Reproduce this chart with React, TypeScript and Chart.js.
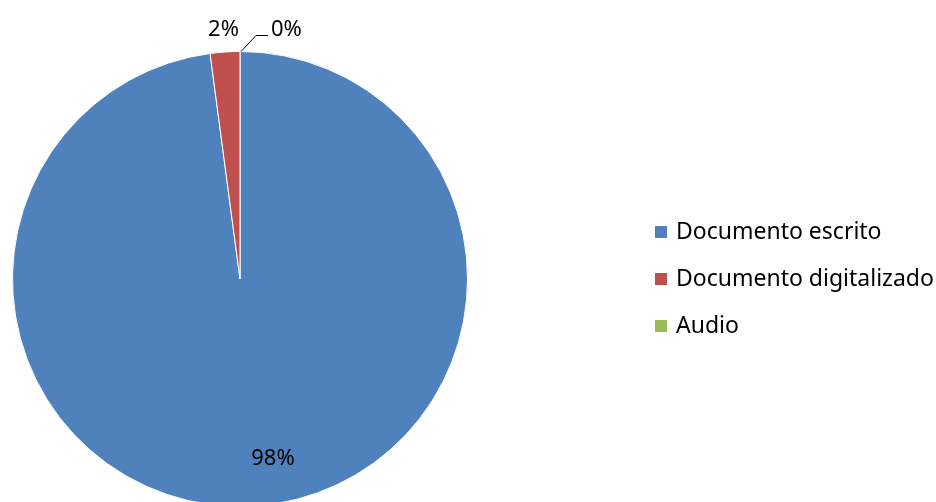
import React, { useEffect, useRef } from "react";
import { Chart, registerables } from "chart.js";

Chart.register(...registerables);

const categories = ["Documento escrito", "Documento digitalizado", "Audio"];
const values = [97.9, 2.1, 0];
const colors = ["#4F81BD", "#C0504D", "#9BBB59"];

const FONT = '"Noto Sans", "Open Sans", sans-serif';

const labelsPlugin = {
  id: "pieLabels",
  afterDraw(chart: any) {
    const ctx = chart.ctx;
    const meta = chart.getDatasetMeta(0);
    const data = chart.data.datasets[0].data as number[];
    const total = data.reduce((a, b) => a + b, 0);
    ctx.save();
    ctx.fillStyle = "#000";
    ctx.font = `22px ${FONT}`;
    meta.data.forEach((arc: any, i: number) => {
      const pct = Math.round((data[i] / total) * 100) + "%";
      const mid = (arc.startAngle + arc.endAngle) / 2;
      const R = arc.outerRadius;
      const frac = data[i] / total;
      if (frac > 0.5) {
        const a = mid - 0.115;
        ctx.textAlign = "center";
        ctx.textBaseline = "middle";
        ctx.fillText(pct, arc.x + Math.cos(a) * R * 0.805, arc.y + Math.sin(a) * R * 0.805);
      } else if (frac > 0.01) {
        ctx.textAlign = "center";
        ctx.textBaseline = "middle";
        ctx.fillText(pct, arc.x + Math.cos(mid) * (R + 22), arc.y + Math.sin(mid) * (R + 22));
      } else {
        const sx = arc.x + Math.cos(mid) * R;
        const sy = arc.y + Math.sin(mid) * R;
        const ex = sx + 16;
        const ey = sy - 16;
        const hx = ex + 12;
        ctx.strokeStyle = "#000";
        ctx.lineWidth = 1;
        ctx.beginPath();
        ctx.moveTo(sx + 1, sy);
        ctx.lineTo(ex, ey);
        ctx.lineTo(hx, ey);
        ctx.stroke();
        ctx.textAlign = "left";
        ctx.textBaseline = "middle";
        ctx.fillText(pct, hx + 3, ey - 6);
      }
    });
    // legend
    ctx.font = `23px ${FONT}`;
    ctx.textAlign = "left";
    ctx.textBaseline = "middle";
    const lx = 655;
    const ly0 = 232;
    const step = 47;
    categories.forEach((c, i) => {
      const y = ly0 + i * step;
      ctx.fillStyle = colors[i];
      ctx.fillRect(lx, y - 6, 12, 12);
      ctx.fillStyle = "#000";
      ctx.fillText(c, lx + 21, y);
    });
    ctx.restore();
  },
};

export default function App() {
  const ref = useRef<HTMLCanvasElement>(null);
  useEffect(() => {
    if (!ref.current) return;
    const chart = new Chart(ref.current, {
      type: "pie",
      data: {
        labels: categories,
        datasets: [
          {
            data: values,
            backgroundColor: colors,
            borderColor: "#ffffff",
            borderWidth: 1,
          },
        ],
      },
      options: {
        responsive: false,
        animation: false,
        layout: { padding: { left: 12, top: 51, right: 468, bottom: 53 } },
        plugins: {
          legend: { display: false },
          tooltip: { enabled: false },
        },
      },
      plugins: [labelsPlugin],
    });
    return () => chart.destroy();
  }, []);
  return (
    <div
      style={{
        position: "fixed",
        left: 0,
        top: 0,
        width: 936,
        height: 502,
        overflow: "hidden",
        background: "#fff",
      }}
    >
      <canvas ref={ref} width={936} height={560} style={{ display: "block" }} />
    </div>
  );
}
